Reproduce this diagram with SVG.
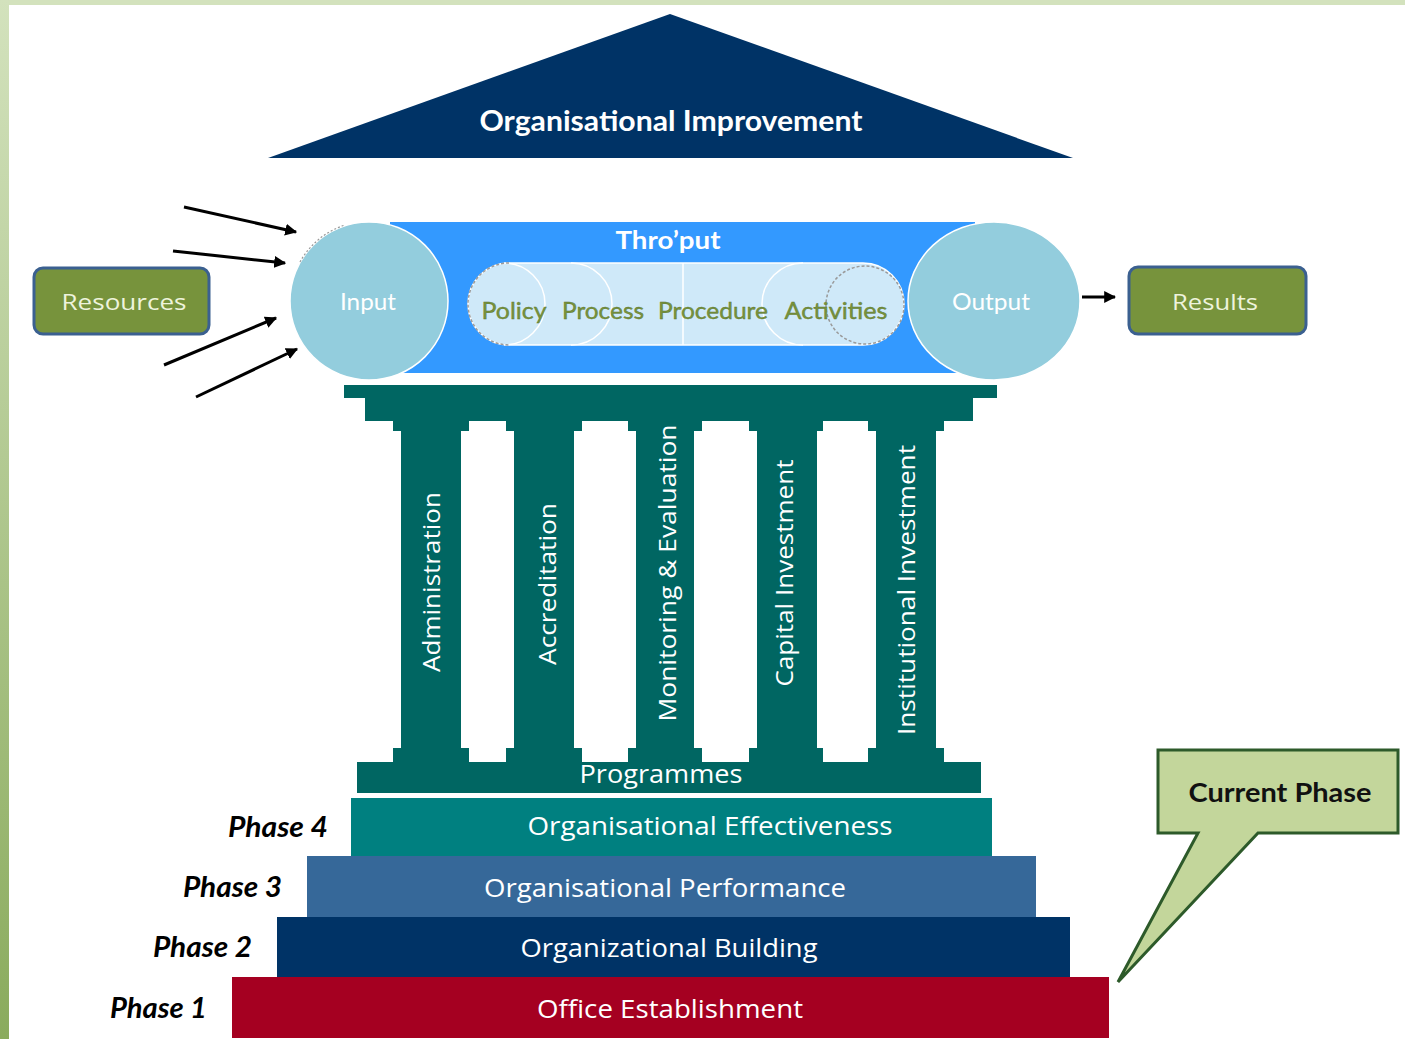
<svg xmlns="http://www.w3.org/2000/svg" width="1405" height="1039" viewBox="0 0 1405 1039">
  <defs>
    <linearGradient id="lg" x1="0" y1="0" x2="0" y2="1">
      <stop offset="0" stop-color="#d3e2bd"/>
      <stop offset="1" stop-color="#8aab5d"/>
    </linearGradient>
    <marker id="ah" viewBox="0 0 10 10" refX="9" refY="5" markerWidth="4" markerHeight="4" orient="auto" markerUnits="strokeWidth">
      <path d="M0,0 L10,5 L0,10 Z" fill="#000"/>
    </marker>
    <style>
      .f { font-family: Lato, "Open Sans", "Liberation Sans", sans-serif; }
      .w { fill: #ffffff; }
      .pil { fill: #006662; }
      .pt { font-family: "Open Sans", "Liberation Sans", sans-serif; font-size: 24px; fill: #ffffff; text-anchor: middle; }
      .olive { font-family: Lato, "Liberation Sans", sans-serif; font-size: 24px; fill: #77933c; stroke: #5b7330; stroke-width: 0.4; text-anchor: middle; }
      .green { fill: #77933c; stroke: #3b6090; stroke-width: 3; }
      .gtxt { font-family: "Open Sans", "Liberation Sans", sans-serif; font-size: 22px; fill: #eef3dc; text-anchor: middle; }
      .ph { font-family: Lato, "Liberation Sans", sans-serif; font-size: 28px; font-weight: bold; font-style: italic; fill: #000; text-anchor: end; }
      .bt { font-family: "Open Sans", "Liberation Sans", sans-serif; font-size: 26px; fill: #ffffff; text-anchor: middle; }
      .arr { stroke: #000; stroke-width: 3; fill: none; marker-end: url(#ah); }
    </style>
  </defs>

  <rect x="0" y="0" width="1405" height="1039" fill="#ffffff"/>
  <rect x="0" y="0" width="1405" height="5" fill="#d3e2bd"/>
  <rect x="0" y="0" width="9" height="1039" fill="url(#lg)"/>

  <g id="roof">
    <polygon points="670,14 268,158 1073,158" fill="#003366"/>
    <text class="f w" x="671" y="131" font-size="28" font-weight="bold" text-anchor="middle" textLength="383" lengthAdjust="spacingAndGlyphs">Organisational Improvement</text>
  </g>

  <g id="throughput">
    <rect x="390" y="222" width="585" height="151" fill="#3399ff"/>
    <text class="f w" x="668" y="249" font-size="24" font-weight="bold" text-anchor="middle" textLength="105" lengthAdjust="spacingAndGlyphs">Thro’put</text>
    <rect x="468" y="263" width="436" height="82" rx="41" ry="41" fill="#cfe9f9" stroke="#ffffff" stroke-width="1.5"/>
    <path d="M504,263 A41,41 0 0 1 504,345 M571,263 A41,41 0 0 1 571,345 M683,263 V345 M803,263 A41,41 0 0 0 803,345" fill="none" stroke="#ffffff" stroke-width="1.5"/>
    <path d="M509,263 A41,41 0 0 0 509,345" fill="none" stroke="#9a9a9a" stroke-width="1.5" stroke-dasharray="3 2"/>
    <circle cx="865" cy="305" r="39" fill="none" stroke="#9a9a9a" stroke-width="1.5" stroke-dasharray="3 2"/>
    <text class="olive" x="514" y="319" textLength="65" lengthAdjust="spacingAndGlyphs">Policy</text>
    <text class="olive" x="603" y="319" textLength="82" lengthAdjust="spacingAndGlyphs">Process</text>
    <text class="olive" x="713" y="319" textLength="110" lengthAdjust="spacingAndGlyphs">Procedure</text>
    <text class="olive" x="836" y="319" textLength="103" lengthAdjust="spacingAndGlyphs">Activities</text>
  </g>

  <g id="input">
    <circle cx="369" cy="301" r="79" fill="#93cddd" stroke="#ffffff" stroke-width="1.5"/>
    <path d="M300,262 A79,79 0 0 1 345,225" fill="none" stroke="#9a9a9a" stroke-width="1.2" stroke-dasharray="2 2"/>
    <text class="f w" x="368" y="310" font-size="24" text-anchor="middle" textLength="56" lengthAdjust="spacingAndGlyphs">Input</text>
  </g>

  <g id="output">
    <ellipse cx="994" cy="301" rx="86" ry="79" fill="#93cddd" stroke="#ffffff" stroke-width="1.5"/>
    <text class="f w" x="991" y="310" font-size="24" text-anchor="middle" textLength="78" lengthAdjust="spacingAndGlyphs">Output</text>
  </g>

  <g id="resources">
    <rect class="green" x="34" y="268" width="175" height="66" rx="9" ry="9"/>
    <text class="gtxt" x="124" y="310" textLength="125" lengthAdjust="spacingAndGlyphs">Resources</text>
  </g>

  <g id="results">
    <rect class="green" x="1129" y="267" width="177" height="67" rx="9" ry="9"/>
    <text class="gtxt" x="1215" y="310" textLength="86" lengthAdjust="spacingAndGlyphs">Results</text>
  </g>

  <g id="pillars">
    <rect class="pil" x="344" y="385" width="653" height="13"/>
    <rect class="pil" x="365" y="397" width="608" height="24"/>
    <rect class="pil" x="393" y="420" width="76" height="11"/>
    <rect class="pil" x="506" y="420" width="76" height="11"/>
    <rect class="pil" x="628" y="420" width="74" height="11"/>
    <rect class="pil" x="749" y="420" width="74" height="11"/>
    <rect class="pil" x="868" y="420" width="76" height="11"/>
    <rect class="pil" x="401" y="430" width="60" height="319"/>
    <rect class="pil" x="514" y="430" width="60" height="319"/>
    <rect class="pil" x="636" y="430" width="58" height="319"/>
    <rect class="pil" x="757" y="430" width="60" height="319"/>
    <rect class="pil" x="876" y="430" width="60" height="319"/>
    <rect class="pil" x="393" y="748" width="76" height="15"/>
    <rect class="pil" x="506" y="748" width="76" height="15"/>
    <rect class="pil" x="628" y="748" width="74" height="15"/>
    <rect class="pil" x="749" y="748" width="74" height="15"/>
    <rect class="pil" x="868" y="748" width="76" height="15"/>
    <rect class="pil" x="357" y="762" width="624" height="31"/>
    <text class="bt" x="661" y="783" textLength="163" lengthAdjust="spacingAndGlyphs">Programmes</text>
  </g>

  <g id="pillar-administration">
    <text class="pt" transform="translate(440,582) rotate(-90)" textLength="180" lengthAdjust="spacingAndGlyphs">Administration</text>
  </g>
  <g id="pillar-accreditation">
    <text class="pt" transform="translate(556,584) rotate(-90)" textLength="162" lengthAdjust="spacingAndGlyphs">Accreditation</text>
  </g>
  <g id="pillar-me">
    <text class="pt" transform="translate(676,573) rotate(-90)" textLength="297" lengthAdjust="spacingAndGlyphs">Monitoring &amp; Evaluation</text>
  </g>
  <g id="pillar-capital">
    <text class="pt" transform="translate(793,573) rotate(-90)" textLength="227" lengthAdjust="spacingAndGlyphs">Capital Investment</text>
  </g>
  <g id="pillar-institutional">
    <text class="pt" transform="translate(915,590) rotate(-90)" textLength="290" lengthAdjust="spacingAndGlyphs">Institutional Investment</text>
  </g>

  <g id="phase4">
    <rect x="351" y="798" width="641" height="58" fill="#008080"/>
    <text class="bt" x="710" y="835" textLength="365" lengthAdjust="spacingAndGlyphs">Organisational Effectiveness</text>
    <text class="ph" x="328" y="837" textLength="100" lengthAdjust="spacingAndGlyphs">Phase 4</text>
  </g>
  <g id="phase3">
    <rect x="307" y="856" width="729" height="61" fill="#366899"/>
    <text class="bt" x="665" y="897" textLength="362" lengthAdjust="spacingAndGlyphs">Organisational Performance</text>
    <text class="ph" x="282" y="897" textLength="99" lengthAdjust="spacingAndGlyphs">Phase 3</text>
  </g>
  <g id="phase2">
    <rect x="277" y="917" width="793" height="60" fill="#003366"/>
    <text class="bt" x="669" y="957" textLength="297" lengthAdjust="spacingAndGlyphs">Organizational Building</text>
    <text class="ph" x="252" y="957" textLength="99" lengthAdjust="spacingAndGlyphs">Phase 2</text>
  </g>
  <g id="phase1">
    <rect x="232" y="977" width="877" height="61" fill="#a50021"/>
    <text class="bt" x="670" y="1018" textLength="266" lengthAdjust="spacingAndGlyphs">Office Establishment</text>
    <text class="ph" x="207" y="1018" textLength="97" lengthAdjust="spacingAndGlyphs">Phase 1</text>
  </g>

  <g id="current-phase">
    <path d="M1158,750 H1398 V833 H1258 L1118,982 L1198,833 H1158 Z" fill="#c3d69b" stroke="#2d5a2a" stroke-width="3" stroke-linejoin="miter"/>
    <text class="f" x="1280" y="802" font-size="27" font-weight="bold" fill="#111111" text-anchor="middle" textLength="183" lengthAdjust="spacingAndGlyphs">Current Phase</text>
  </g>

  <g id="connectors">
    <line class="arr" x1="184" y1="207" x2="296" y2="232"/>
    <line class="arr" x1="173" y1="251" x2="285" y2="263"/>
    <line class="arr" x1="164" y1="365" x2="276" y2="318"/>
    <line class="arr" x1="196" y1="397" x2="297" y2="349"/>
    <line class="arr" x1="1082" y1="297" x2="1115" y2="297"/>
  </g>
</svg>
